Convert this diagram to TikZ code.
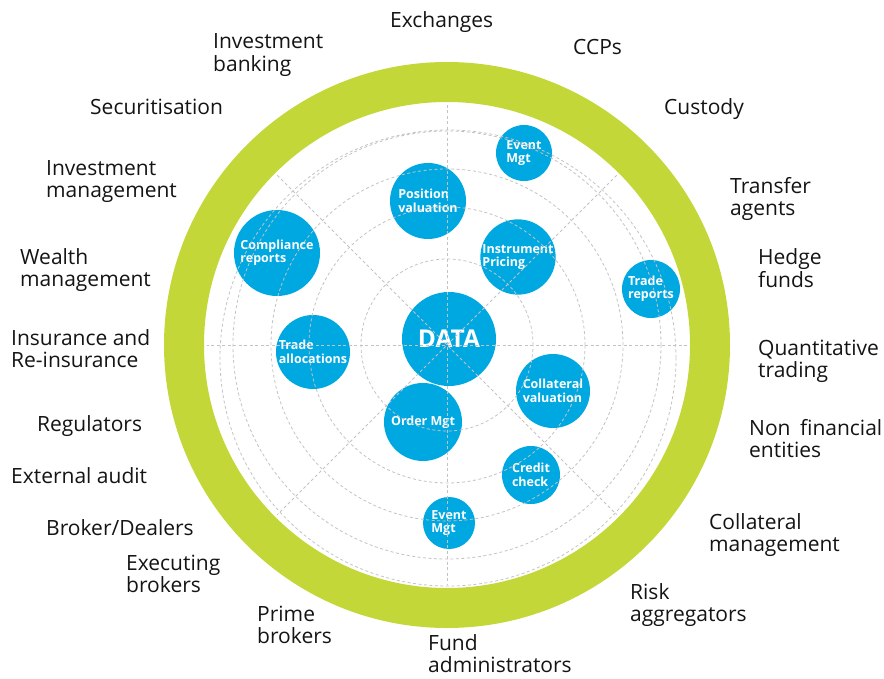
\documentclass[tikz,border=0pt]{standalone}
\usepackage{fontspec}
\setmainfont{Open Sans}
\definecolor{ringgreen}{RGB}{195,216,56}
\definecolor{dblue}{RGB}{0,168,225}
\definecolor{gridgray}{RGB}{195,195,195}
\definecolor{labelblack}{RGB}{20,20,20}
\newcommand\twoline[2]{\begin{tabular}[t]{@{}l@{}}#1\\#2\end{tabular}}
\tikzset{
  outer/.style={anchor=base west, inner sep=0pt, text=labelblack, font=\fontsize{21}{22}\selectfont},
  bub/.style={circle, fill=dblue, text=white, inner sep=0pt, align=left, font=\bfseries\fontsize{12.5}{13.5}\selectfont},
  gridline/.style={gridgray, dash pattern=on 3pt off 2.5pt, line width=0.8pt},
}
\begin{document}
\begin{tikzpicture}[x=1pt,y=-1pt]
\useasboundingbox (0,0) rectangle (884,679);
\coordinate (C) at (447,345);
% ring
\draw[ringgreen, line width=40pt] (C) circle[radius=263pt];
% bubbles
\node[bub, minimum size=56pt] (evtop) at (524,153) {Event\\Mgt};
\node[bub, minimum size=76pt] (posval) at (428,201) {Position\\valuation};
\node[bub, minimum size=86pt] (compl) at (277,253) {Compliance\\reports};
\node[bub, minimum size=72pt] (instr) at (518,257) {Instrument\\Pricing};
\node[bub, minimum size=58pt] (trrep) at (651,289) {Trade\\reports};
\node[bub, minimum size=94pt, font=\bfseries\fontsize{24.5}{26}\selectfont] (data) at (449,339) {DATA};
\node[bub, minimum size=74pt] (tralloc) at (313,352) {Trade\\allocations};
\node[bub, minimum size=74pt] (collat) at (553,391) {Collateral\\valuation};
\node[bub, minimum size=78pt] (order) at (423,422) {Order Mgt};
\node[bub, minimum size=58pt] (credit) at (531,475) {Credit\\check};
\node[bub, minimum size=52pt] (evbot) at (449,523) {Event\\Mgt};
% grid
\begin{scope}
  \clip (C) circle[radius=242pt];
  \foreach \r in {86,138,176,214}
    \draw[gridline] (C) circle[radius=\r pt];
  \draw[gridline] (448,358) circle[radius=228pt];
  \foreach \a in {0,45,90,135}
    \draw[gridline] ([shift={(\a:240pt)}]C) -- ([shift={(\a+180:240pt)}]C);
\end{scope}
% outer labels
\node[outer] (exch) at (390,28) {Exchanges};
\node[outer] (ibank) at (213,49) {\twoline{Investment}{banking}};
\node[outer] (ccps) at (573,55) {CCPs};
\node[outer] (secur) at (90,115) {Securitisation};
\node[outer] (cust) at (664,115) {Custody};
\node[outer] (imgmt) at (46,176) {\twoline{Investment}{management}};
\node[outer] (transf) at (730,194) {\twoline{Transfer}{agents}};
\node[outer] (wealth) at (20,265) {\twoline{Wealth}{management}};
\node[outer] (hedge) at (758,265) {\twoline{Hedge}{funds}};
\node[outer] (insur) at (11,345) {\twoline{Insurance and}{Re-insurance}};
\node[outer] (quant) at (758,355) {\twoline{Quantitative}{trading}};
\node[outer] (regul) at (37,431) {Regulators};
\node[outer] (nonfin) at (749,435) {\twoline{Non\hspace{4pt} financial}{entities}};
\node[outer] (extaud) at (11,483) {External audit};
\node[outer] (brokd) at (46,535) {Broker/Dealers};
\node[outer] (collm) at (709,529) {\twoline{Collateral}{management}};
\node[outer] (execb) at (126,570) {\twoline{Executing}{brokers}};
\node[outer] (risk) at (630,599) {\twoline{Risk}{aggregators}};
\node[outer] (prime) at (257,621) {\twoline{Prime}{brokers}};
\node[outer, anchor=south west, align=left] (fund) at (428,673) {Fund\\administrators};
\end{tikzpicture}
\end{document}
